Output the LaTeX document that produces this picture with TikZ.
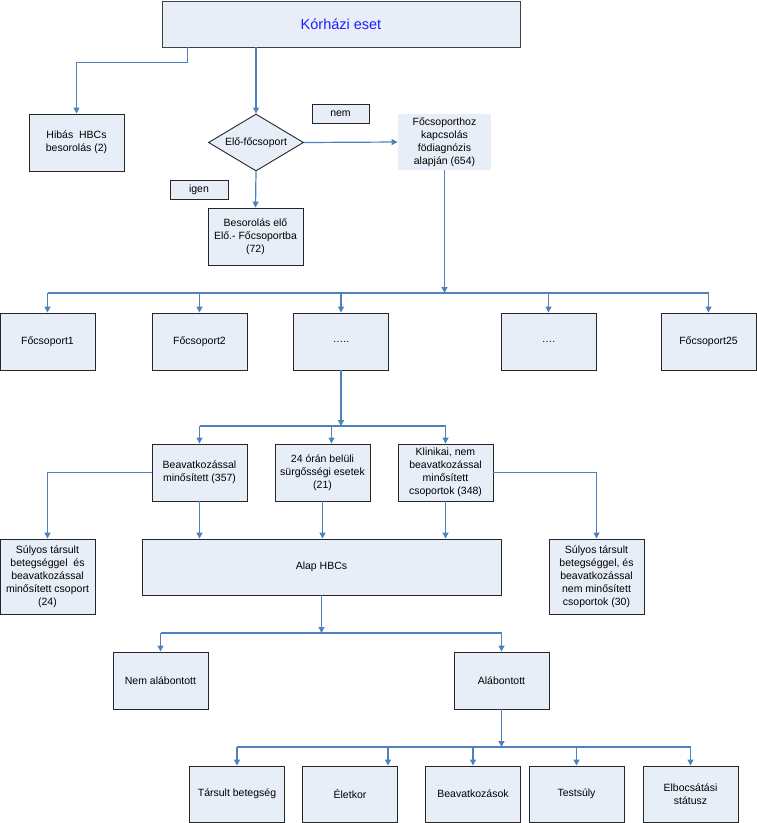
\documentclass[tikz,border=0pt]{standalone}
\usepackage{fontspec}
\setmainfont{Liberation Sans}
\usetikzlibrary{shapes.geometric,arrows.meta}
\definecolor{boxfill}{RGB}{232,238,248}
\definecolor{linkblue}{RGB}{79,129,189}
\definecolor{titleblue}{RGB}{30,30,255}
\begin{document}
\begin{tikzpicture}[x=1pt,y=-1pt,
  box/.style={draw=black!85,line width=0.9pt,fill=boxfill,inner sep=1pt,align=center,
    minimum width=95pt,minimum height=57pt,font=\fontsize{10.5}{13}\selectfont},
  tag/.style={draw=black!85,line width=0.9pt,fill=boxfill,inner sep=0pt,
    minimum height=19pt,font=\fontsize{10.5}{13}\selectfont},
  wire/.style={draw=linkblue,line width=1.2pt},
  conn/.style={wire,-{Triangle[width=6pt,length=6pt]}}]
\useasboundingbox (0,0) rectangle (757,823);
% top
\node[box,draw=black!75,minimum width=358pt,minimum height=46pt,
  font=\fontsize{14.5}{17}\selectfont,text=titleblue] (top) at (341,24) {Kórházi eset};
\node[box] (hibas) at (76.5,142.5) {Hibás\ \ HBCs\\besorolás (2)};
\node[draw=black!85,line width=0.9pt,fill=boxfill,shape=diamond,aspect=1.67,inner sep=0pt,
  minimum width=95pt,minimum height=57pt,font=\fontsize{10.5}{13}\selectfont] (dia) at (256,142.5) {Elő-főcsoport};
\node[tag,minimum width=57pt] (nem) at (340.5,113.5) {nem};
\node[tag,minimum width=58pt] (igen) at (199,189.5) {igen};
\node[box,draw=none,minimum width=93pt,minimum height=56pt] (foc) at (444.5,142) {Főcsoporthoz\\kapcsolás\\födiagnózis\\alapján (654)};
\node[box] (beso) at (255.5,236.5) {Besorolás elő\\Elő.- Főcsoportba\\(72)};
% row 2
\node[box] (f1) at (47.5,341.5) {Főcsoport1};
\node[box] (f2) at (199.5,341.5) {Főcsoport2};
\node[box] (f3) at (341,341.5) {…..};
\node[box] (f4) at (548.5,341.5) {….};
\node[box] (f25) at (708.5,341.5) {Főcsoport25};
% row 3
\node[box] (beav) at (199.5,472.5) {Beavatkozással\\minősített (357)};
\node[box] (sur) at (322.5,472.5) {24 órán belüli\\sürgősségi esetek\\(21)};
\node[box] (klin) at (445.5,472.5) {Klinikai, nem\\beavatkozással\\minősített\\csoportok (348)};
% row 4
\node[box,minimum height=75pt] (sul1) at (47.5,576.5) {Súlyos társult\\betegséggel\ \ és\\beavatkozással\\minősített csoport\\(24)};
\node[box,minimum width=359pt,minimum height=56pt] (alap) at (321.5,567) {Alap HBCs};
\node[box,minimum height=75pt] (sul2) at (596.5,576.5) {Súlyos társult\\betegséggel, és\\beavatkozással\\nem minősített\\csoportok (30)};
% row 5
\node[box] (nal) at (160.5,680.5) {Nem alábontott};
\node[box] (alb) at (501.5,680.5) {Alábontott};
% row 6
\node[box,minimum height=56pt] (t1) at (237,794) {Társult betegség};
\node[box,minimum height=56pt] (t2) at (350,794) {Életkor};
\node[box,minimum height=56pt] (t3) at (473,794) {Beavatkozások};
\node[box,minimum height=56pt] (t4) at (576.5,794) {Testsúly};
\node[box,minimum height=56pt] (t5) at (690.5,794) {Elbocsátási\\státusz};
% bus levels
\coordinate (b1) at (0,293);
\coordinate (b2) at (0,426);
\coordinate (b3) at (0,633);
\coordinate (b4) at (0,747);
% connectors
\draw[conn] ([xshift=26pt]top.south west) -- ++(0,15) -| (hibas.north);
\draw[conn] (top.south -| dia.north) -- (dia.north);
\draw[conn] (dia.east) -- (foc.west);
\draw[conn] (dia.south) -- (beso.north);
\draw[conn] (foc.south) -- (foc.south |- b1);
\draw[wire] (f1.north |- b1) -- (f25.north |- b1);
\foreach \n in {f1,f2,f3,f4,f25} \draw[conn] (\n.north |- b1) -- (\n.north);
\draw[conn] (f3.south) -- (f3.south |- b2);
\draw[wire] (beav.north |- b2) -- (klin.north |- b2);
\draw[conn] (beav.north |- b2) -- (beav.north);
\draw[conn] ([xshift=9pt]sur.north |- b2) -- ([xshift=9pt]sur.north);
\draw[conn] (klin.north |- b2) -- (klin.north);
\draw[conn] (beav.west) -| (sul1.north);
\draw[conn] (klin.east) -| (sul2.north);
\draw[conn] (beav.south) -- (beav.south |- alap.north);
\draw[conn] (sur.south) -- (sur.south |- alap.north);
\draw[conn] (klin.south) -- (klin.south |- alap.north);
\draw[conn] (alap.south) -- (alap.south |- b3);
\draw[wire] (nal.north |- b3) -- (alb.north |- b3);
\draw[conn] (nal.north |- b3) -- (nal.north);
\draw[conn] (alb.north |- b3) -- (alb.north);
\draw[conn] (alb.south) -- (alb.south |- b4);
\draw[wire] (t1.north |- b4) -- (t5.north |- b4);
\draw[conn] (t1.north |- b4) -- (t1.north);
\draw[conn] ([xshift=38pt]t2.north |- b4) -- ([xshift=38pt]t2.north);
\draw[conn] (t3.north |- b4) -- (t3.north);
\draw[conn] (t4.north |- b4) -- (t4.north);
\draw[conn] (t5.north |- b4) -- (t5.north);
\end{tikzpicture}
\end{document}
